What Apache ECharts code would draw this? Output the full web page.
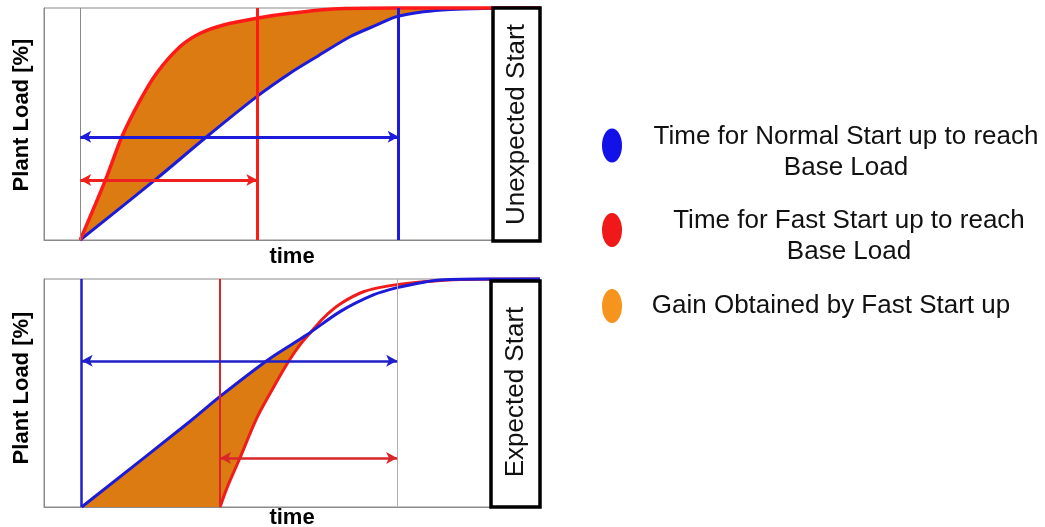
<!DOCTYPE html>
<html>
<head>
<meta charset="utf-8">
<script src="https://cdn.jsdelivr.net/npm/echarts@6/dist/echarts.min.js"></script>
<style>
html,body{margin:0;padding:0;background:#fff;}
#chart{width:1045px;height:527px;}
</style>
</head>
<body>
<div id="chart"></div>
<script>
// ---------- DATA (time in arbitrary units 0..100, load in % 0..100) ----------
// Top panel: Unexpected Start
const normalTop = [[7.3,0],[22.4,25.9],[32.8,44.5],[42.9,61.8],[49.6,71.9],[55.0,79.0],[61.7,87.6],[67.1,92.7],[71.1,96.3],[76.5,98.4],[81.9,99.4],[88.5,99.8],[100,100]];
const fastTop   = [[7.3,0],[12.4,25.9],[15.7,44.5],[19.4,60.3],[22.7,71.9],[27.4,83.3],[31.5,89.1],[36.2,92.7],[42.9,95.6],[49.6,97.7],[58.3,99.6],[71.1,100],[100,100]];
// Bottom panel: Expected Start
const normalBottom = [[7.6,0],[29.4,37.5],[35.5,48.5],[45.2,64.6],[53.0,75.5],[59.7,85.7],[66.4,93.0],[71.2,96.2],[76.5,98.6],[79.8,99.6],[89.9,100],[100,100]];
const fastBottom   = [[35.5,0],[36.9,8.4],[39.5,21.5],[42.9,39.0],[46.2,52.2],[49.3,63.8],[51.6,71.1],[53.6,76.2],[56.3,82.8],[59.7,89.0],[64.4,94.4],[69.8,97.1],[76.5,98.8],[83.9,99.8],[100,100]];
// time where fast curve meets normal curve (end of gain area, bottom)
const gainEndBottom = 53.6;
// vertical marker times: [start, fast reaches base, normal reaches base]
const topMarkers = [7.3, 43.0, 71.5];
// [normal start, fast start, base load reached]
const bottomMarkers = [7.6, 35.5, 71.2];
// arrows: [load level, from time, to time]
const topArrowNormal = [44.5, 7.3, 71.5];
const topArrowFast = [25.9, 7.3, 43.0];
const bottomArrowNormal = [64.1, 7.6, 71.2];
const bottomArrowFast = [21.5, 35.5, 71.2];
const panelLabels = ['Unexpected Start', 'Expected Start'];
const axisNames = ['time', 'Plant Load [%]'];
const legendLabels = {
  Normal: ['Time for Normal Start up to reach', 'Base Load'],
  Fast: ['Time for Fast Start up to reach', 'Base Load'],
  Gain: ['Gain Obtained by Fast Start up']
};

// ---------- STYLE ----------
const BLUE = '#1b1bd9';
const RED = '#ff1a1a';
const DARKRED = '#d8262a';
const ORANGE = '#dc7b12';
const GREY = '#8a8a8a';
const FONT = '"Liberation Sans", Arial, sans-serif';
const ICON = 'path://M10,0A10,17,0,1,1,10,34A10,17,0,1,1,10,0Z';

function polygonFill(upper, lower) {
  return function (params, api) {
    const pts = upper.map(p => api.coord(p)).concat(lower.slice().reverse().map(p => api.coord(p)));
    return { type: 'polygon', shape: { points: pts }, style: { fill: ORANGE } };
  };
}

function vLine(x, color, width) {
  return { xAxis: x, lineStyle: { color: color, width: width, type: 'solid' } };
}
function arrow(a, color, width) {
  return [
    { coord: [a[1], a[0]], lineStyle: { color: color, width: width, type: 'solid' } },
    { coord: [a[2], a[0]] }
  ];
}

const lineBase = { type: 'line', symbol: 'none', smooth: 0.3, clip: false, z: 3, silent: true };
const mlBase = { silent: true, animation: false, label: { show: false }, emphasis: { disabled: true } };

const xAxisBase = {
  type: 'value', min: 0, max: 100,
  axisLine: { show: true, lineStyle: { color: GREY, width: 1 } },
  axisTick: { show: false }, axisLabel: { show: false }, splitLine: { show: false },
  name: axisNames[0], nameLocation: 'middle',
  nameTextStyle: { fontFamily: FONT, fontSize: 22, fontWeight: 'bold', color: '#000', lineHeight: 22 }
};
const yAxisBase = {
  type: 'value', min: 0, max: 100,
  axisLine: { show: true, lineStyle: { color: GREY, width: 1 } },
  axisTick: { show: false }, axisLabel: { show: false }, splitLine: { show: false },
  name: axisNames[1], nameLocation: 'middle', nameGap: 11
};

const richBase = { fontFamily: FONT, fontSize: 26, lineHeight: 31, color: '#111' };

const option = {
  animation: false,
  backgroundColor: '#fff',
  grid: [
    { left: 44, top: 8, width: 496, height: 232, show: true, borderColor: GREY, borderWidth: 1, outerBoundsMode: 'none', containLabel: false },
    { left: 44, top: 279, width: 496, height: 228, show: true, borderColor: GREY, borderWidth: 1, outerBoundsMode: 'none', containLabel: false }
  ],
  xAxis: [
    Object.assign({}, xAxisBase, { gridIndex: 0, nameGap: 6 }),
    Object.assign({}, xAxisBase, { gridIndex: 1, nameGap: 0 })
  ],
  yAxis: [
    Object.assign({}, yAxisBase, { gridIndex: 0,
      nameTextStyle: { fontFamily: FONT, fontSize: 22, fontWeight: 'bold', color: '#000', lineHeight: 22, padding: [0, 0, 0, 18] } }),
    Object.assign({}, yAxisBase, { gridIndex: 1,
      nameTextStyle: { fontFamily: FONT, fontSize: 22, fontWeight: 'bold', color: '#000', lineHeight: 22, padding: [0, 0, 0, 10] } })
  ],
  legend: {
    orient: 'vertical', left: 602, top: 114, padding: 0, itemGap: 18,
    itemWidth: 20, itemHeight: 34, selectedMode: false,
    itemStyle: { borderWidth: 0 },
    data: [
      { name: 'Normal', icon: ICON, itemStyle: { color: '#1212e8', borderWidth: 0 } },
      { name: 'Fast', icon: ICON, itemStyle: { color: '#f01818', borderWidth: 0 } },
      { name: 'Gain', icon: ICON, itemStyle: { color: '#f7941d', borderWidth: 0 } }
    ],
    formatter: function (name) {
      const l = legendLabels[name];
      if (name === 'Normal') return '{e| }\n{a|' + l[0] + '}\n{a|' + l[1] + '}';
      if (name === 'Fast') return '{e| }\n{b|' + l[0] + '}\n{b|' + l[1] + '}';
      return '{f| }\n{c|' + l[0] + '}\n{f| }';
    },
    textStyle: {
      fontFamily: FONT, fontSize: 26, color: '#111',
      rich: {
        e: { fontSize: 1, lineHeight: 13 },
        f: { fontSize: 1, lineHeight: 14 },
        a: Object.assign({ width: 438, align: 'center' }, richBase),
        b: Object.assign({ width: 444, align: 'center' }, richBase),
        c: Object.assign({ width: 408, align: 'center' }, richBase)
      }
    }
  },
  series: [
    // gain areas
    { type: 'custom', name: 'Gain', xAxisIndex: 0, yAxisIndex: 0, z: 1, silent: true,
      itemStyle: { color: ORANGE },
      data: [[0, 0]], renderItem: polygonFill(fastTop, normalTop) },
    { type: 'custom', name: 'Gain', xAxisIndex: 1, yAxisIndex: 1, z: 1, silent: true,
      itemStyle: { color: ORANGE },
      data: [[0, 0]],
      renderItem: polygonFill(normalBottom.filter(p => p[0] <= gainEndBottom), fastBottom.filter(p => p[0] <= gainEndBottom)) },
    // top curves
    Object.assign({}, lineBase, { name: 'Normal', xAxisIndex: 0, yAxisIndex: 0, data: normalTop,
      color: BLUE, lineStyle: { color: BLUE, width: 3 },
      markLine: Object.assign({}, mlBase, { symbol: ['none', 'none'],
        data: [vLine(topMarkers[0], GREY, 1), vLine(topMarkers[1], RED, 3), vLine(topMarkers[2], BLUE, 3)] }) }),
    Object.assign({}, lineBase, { name: 'Fast', xAxisIndex: 0, yAxisIndex: 0, data: fastTop,
      color: RED, lineStyle: { color: RED, width: 3.5 },
      markLine: Object.assign({}, mlBase, { symbol: ['arrow', 'arrow'], symbolSize: [9, 11],
        data: [arrow(topArrowNormal, BLUE, 3), arrow(topArrowFast, '#ee2020', 3)] }) }),
    // bottom curves
    Object.assign({}, lineBase, { name: 'Normal', xAxisIndex: 1, yAxisIndex: 1, data: normalBottom,
      color: BLUE, lineStyle: { color: BLUE, width: 3 },
      markLine: Object.assign({}, mlBase, { symbol: ['none', 'none'],
        data: [vLine(bottomMarkers[0], '#2020c8', 2.5), vLine(bottomMarkers[1], DARKRED, 2), vLine(bottomMarkers[2], '#b0b0b0', 1)] }) }),
    Object.assign({}, lineBase, { name: 'Fast', xAxisIndex: 1, yAxisIndex: 1, data: fastBottom, z: 2,
      color: RED, lineStyle: { color: '#f01c1c', width: 3 },
      markLine: Object.assign({}, mlBase, { symbol: ['arrow', 'arrow'], symbolSize: [9, 11],
        data: [arrow(bottomArrowNormal, '#2020c8', 2.5), arrow(bottomArrowFast, DARKRED, 2.5)] }) })
  ],
  graphic: [
    { type: 'rect', z: 100, shape: { x: 493, y: 8, width: 47, height: 233 }, style: { fill: '#fff', stroke: '#000', lineWidth: 3.5 } },
    { type: 'text', z: 101, x: 517, y: 124.5, rotation: Math.PI / 2,
      style: { text: panelLabels[0], font: '26px ' + FONT, fill: '#111', align: 'center', verticalAlign: 'middle' } },
    { type: 'rect', z: 100, shape: { x: 491, y: 281, width: 49, height: 226 }, style: { fill: '#fff', stroke: '#000', lineWidth: 3.5 } },
    { type: 'text', z: 101, x: 516, y: 392, rotation: Math.PI / 2,
      style: { text: panelLabels[1], font: '26px ' + FONT, fill: '#111', align: 'center', verticalAlign: 'middle' } }
  ]
};

const chart = echarts.init(document.getElementById('chart'), null, { renderer: 'canvas' });
chart.setOption(option);
</script>
</body>
</html>
